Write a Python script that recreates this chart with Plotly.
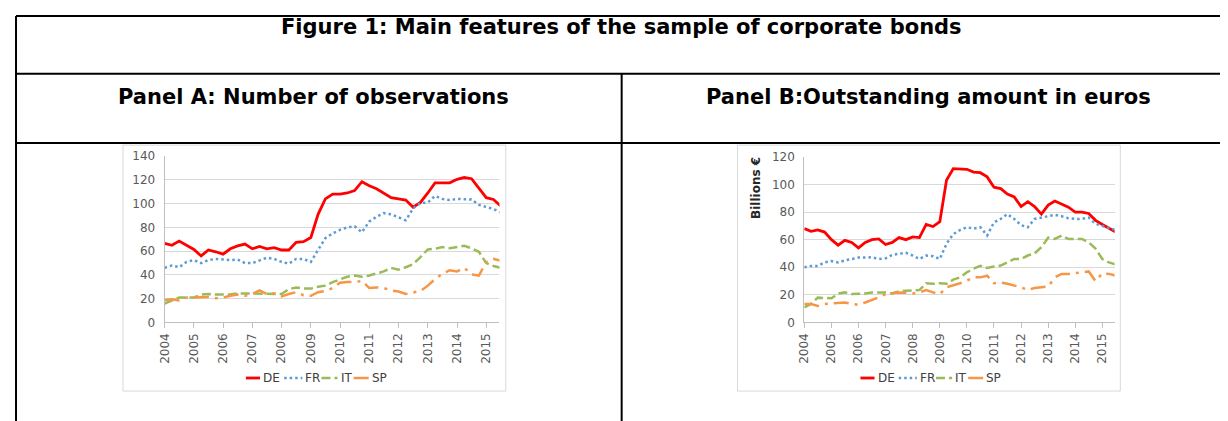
import pandas as pd
import plotly.graph_objects as go

W, H = 1228, 421
# measured screenshot mapping: window pixel = scale * (figure pixel + 16)
SX, SY, OFF = 0.987, 0.963, 16

# quarterly observations, Jan 2004 .. Jul 2015
dates = pd.date_range("2004-01-01", periods=47, freq="QS")
countries = ["DE", "FR", "IT", "SP"]

# Panel A: number of observations
obs_de = [66.5, 65, 68.5, 65, 61.5, 56, 61, 59.5, 57.5, 62, 64.5, 66, 62, 64, 62, 63,
          61, 61, 67.5, 68, 71.5, 91, 104,
          108, 108, 109, 111, 118.5, 115, 112.5, 109, 105, 104, 103, 97, 101, 109,
          117.5, 117.5, 117.5, 120.5, 122, 121, 112.5, 105, 103.5, 98]
obs_fr = [46, 48, 46.5, 51, 52.5, 50, 52.5, 53.5, 53, 52.5, 53, 50, 50, 52.5, 54.5, 53.5,
          51, 49.5, 53.5, 53.5, 51, 61, 71,
          75, 78, 80, 81, 76, 85, 89, 92, 91, 88.5, 86, 96, 100.5, 101, 106.5, 104,
          103, 104, 104, 103.5, 99, 97, 95.5, 92.5]
obs_it = [16, 18.5, 21, 21, 21, 23.5, 24, 23.5, 23.5, 23.5, 24.5, 24.5, 24.5, 24.5, 24, 24.5,
          24, 28, 29.5, 28.5, 28.5, 30, 31,
          34, 36.5, 38.5, 39.5, 38.5, 39.5, 41, 43, 46, 44.5, 46.5, 49, 55, 61.5, 62,
          63.5, 62.5, 63.5, 64.5, 62.5, 59.5, 50, 47.5, 46]
obs_sp = [19, 19.5, 18.5, 21, 21, 21, 21.5, 20.5, 21, 22.5, 23.5, 22.5, 24, 27, 24, 24.5,
          22, 24, 25.5, 23, 22.5, 25.5, 26.5,
          29, 33.5, 34, 34, 35, 29, 29.5, 29, 27, 26, 24, 25, 26.5, 31, 36.5, 41,
          44, 43, 46, 40.5, 39.5, 51, 53.5, 52]

# Panel B: outstanding amount, billions of euros
amt_de = [68, 66, 67, 65.5, 60, 56, 59.5, 58, 54, 58, 60, 60.5, 56.5, 58, 61.5, 60,
          62, 61.5, 71, 69.5, 73, 103, 111.5, 111, 111, 109, 108.5, 105.5, 98, 97, 93, 91,
          84, 87.5, 84, 78.5, 85, 88, 86, 83.5, 80, 80, 79, 74, 71, 68.5, 65.5]
amt_fr = [40, 41, 41, 43.5, 44.5, 43.5, 45, 46, 47, 47, 47.3, 46, 46.5, 49, 49.7, 50.5,
          48.5, 46, 48.5, 48, 46, 57, 64, 67, 69, 68, 69, 63, 72.5, 75, 78.5, 75,
          70.5, 69, 75, 76, 76.5, 78, 77, 75.5, 75, 75, 76, 71.5, 70, 68.5, 67]
amt_it = [11, 13.5, 18, 17.5, 17.5, 21, 21.8, 20.6, 20.6, 21, 21.8, 21.8, 21.8, 21, 22.5, 23,
          23, 23.5, 28.4, 28, 28.4, 28, 31, 32.7, 36.4, 39, 41, 39.5, 40.5, 41.2, 43.6, 46,
          46, 48.5, 50, 54.5, 61.5, 60.5, 63, 60.5, 60.5, 60.5, 58, 53.5, 46, 43.5, 42]
amt_sp = [13.3, 13.3, 12, 13.3, 13.8, 14, 14.5, 13.5, 12.8, 14.5, 16.2, 18.2, 20.6, 21, 21.8, 21.5,
          21, 21.8, 23.5, 21.8, 20.6, 25.5, 26.7, 28.4, 30.3, 32.7, 32.7, 33.9, 28.4, 29, 28, 26.7,
          25.5, 23.5, 25, 25.5, 26, 32.7, 35.2, 35.2, 35.6, 36.4, 37, 30, 35.6, 35.2, 34]

styles = {"DE": dict(color="#ff0000", dash="solid", width=2.8),
          "FR": dict(color="#5b9bd5", dash="2.5px,3px", width=2.5),
          "IT": dict(color="#9bbb59", dash="9px,4px", width=2.5),
          "SP": dict(color="#f79646", dash="15px,6px,3px,6px", width=2.5)}


# convert window pixels to paper fractions
def px(x):
    return (x / SX - OFF) / W


def py(y):
    return 1 - (y / SY - OFF) / H


fig = go.Figure()
for name, vals in zip(countries, [obs_de, obs_fr, obs_it, obs_sp]):
    fig.add_trace(go.Scatter(x=dates, y=vals, name=name, mode="lines", line=styles[name],
                             xaxis="x", yaxis="y", showlegend=False))
for name, vals in zip(countries, [amt_de, amt_fr, amt_it, amt_sp]):
    fig.add_trace(go.Scatter(x=dates, y=vals, name=name, mode="lines", line=styles[name],
                             xaxis="x2", yaxis="y2", showlegend=False))

tick_font = dict(family="DejaVu Sans", size=12, color="#595959")
xax = dict(type="date", range=["2004-01-01", "2015-06-15"], tick0="2004-01-01", dtick="M12",
           tickformat="%Y", tickangle=-90, showgrid=False, showline=True, linecolor="#bfbfbf",
           ticks="outside", ticklen=5, tickcolor="#bfbfbf", tickfont=tick_font)
yax = dict(showgrid=True, gridcolor="#d9d9d9", showline=True, linecolor="#bfbfbf",
           zeroline=False, dtick=20, ticks="", tickfont=tick_font, ticklabelstandoff=6)

fig.update_layout(
    width=W, height=H, margin=dict(l=0, r=0, t=0, b=0),
    paper_bgcolor="white", plot_bgcolor="white",
    xaxis=dict(xax, domain=[px(164.3), px(496.7)], anchor="y"),
    yaxis=dict(yax, domain=[py(321.7), py(156)], range=[0, 140], anchor="x"),
    xaxis2=dict(xax, domain=[px(799.3), px(1107.3)], anchor="y2"),
    yaxis2=dict(yax, domain=[py(321.7), py(156.7)], range=[0, 120], anchor="x2"),
)

# table grid (outer top/left edges sit on the figure border)
black = dict(color="black", width=2)
for x0, y0, x1, y1 in [(16.8, 16.4, 1260, 16.4), (16.8, 74, 1260, 74), (16.8, 143, 1260, 143),
                       (16.8, 16.4, 16.8, 440), (618, 74, 618, 440)]:
    fig.add_shape(type="line", xref="paper", yref="paper",
                  x0=px(x0), y0=py(y0), x1=px(x1), y1=py(y1), line=black)

# chart frames
for x0, x1 in [(123, 503), (733, 1113)]:
    fig.add_shape(type="rect", xref="paper", yref="paper",
                  x0=px(x0), y0=py(390), x1=px(x1), y1=py(145),
                  line=dict(color="#d9d9d9", width=1))

# legends under each chart (line sample followed by the label)
legend_slots = [(245, 259), (283, 301), (320, 336), (352, 367)]
for shift in [0, 610]:
    for name, (x0, x1) in zip(countries, legend_slots):
        st = styles[name]
        fig.add_shape(type="line", xref="paper", yref="paper",
                      x0=px(x0 + shift), x1=px(x1 + shift), y0=py(377), y1=py(377),
                      line=dict(color=st["color"], dash=st["dash"], width=st["width"]))
        fig.add_annotation(text=name, x=px(x1 + 1 + shift), y=py(377), xref="paper", yref="paper",
                           showarrow=False, xanchor="left", yanchor="middle",
                           font=dict(family="DejaVu Sans", size=12, color="#404040"))

title_font = dict(family="DejaVu Sans", size=21, color="black")
for text, x, y in [("<b>Figure 1: Main features of the sample of corporate bonds</b>", 618, 27),
                   ("<b>Panel A: Number of observations</b>", 312, 97),
                   ("<b>Panel B:Outstanding amount in euros</b>", 923, 97)]:
    fig.add_annotation(text=text, x=px(x), y=py(y), xref="paper", yref="paper",
                       showarrow=False, font=title_font, xanchor="center", yanchor="middle")

fig.add_annotation(text="<b>Billions €</b>", x=px(752), y=py(188), xref="paper", yref="paper",
                   showarrow=False, textangle=-90, xanchor="center", yanchor="middle",
                   font=dict(family="DejaVu Sans", size=12, color="#262626"))

fig.write_html("out.html")
